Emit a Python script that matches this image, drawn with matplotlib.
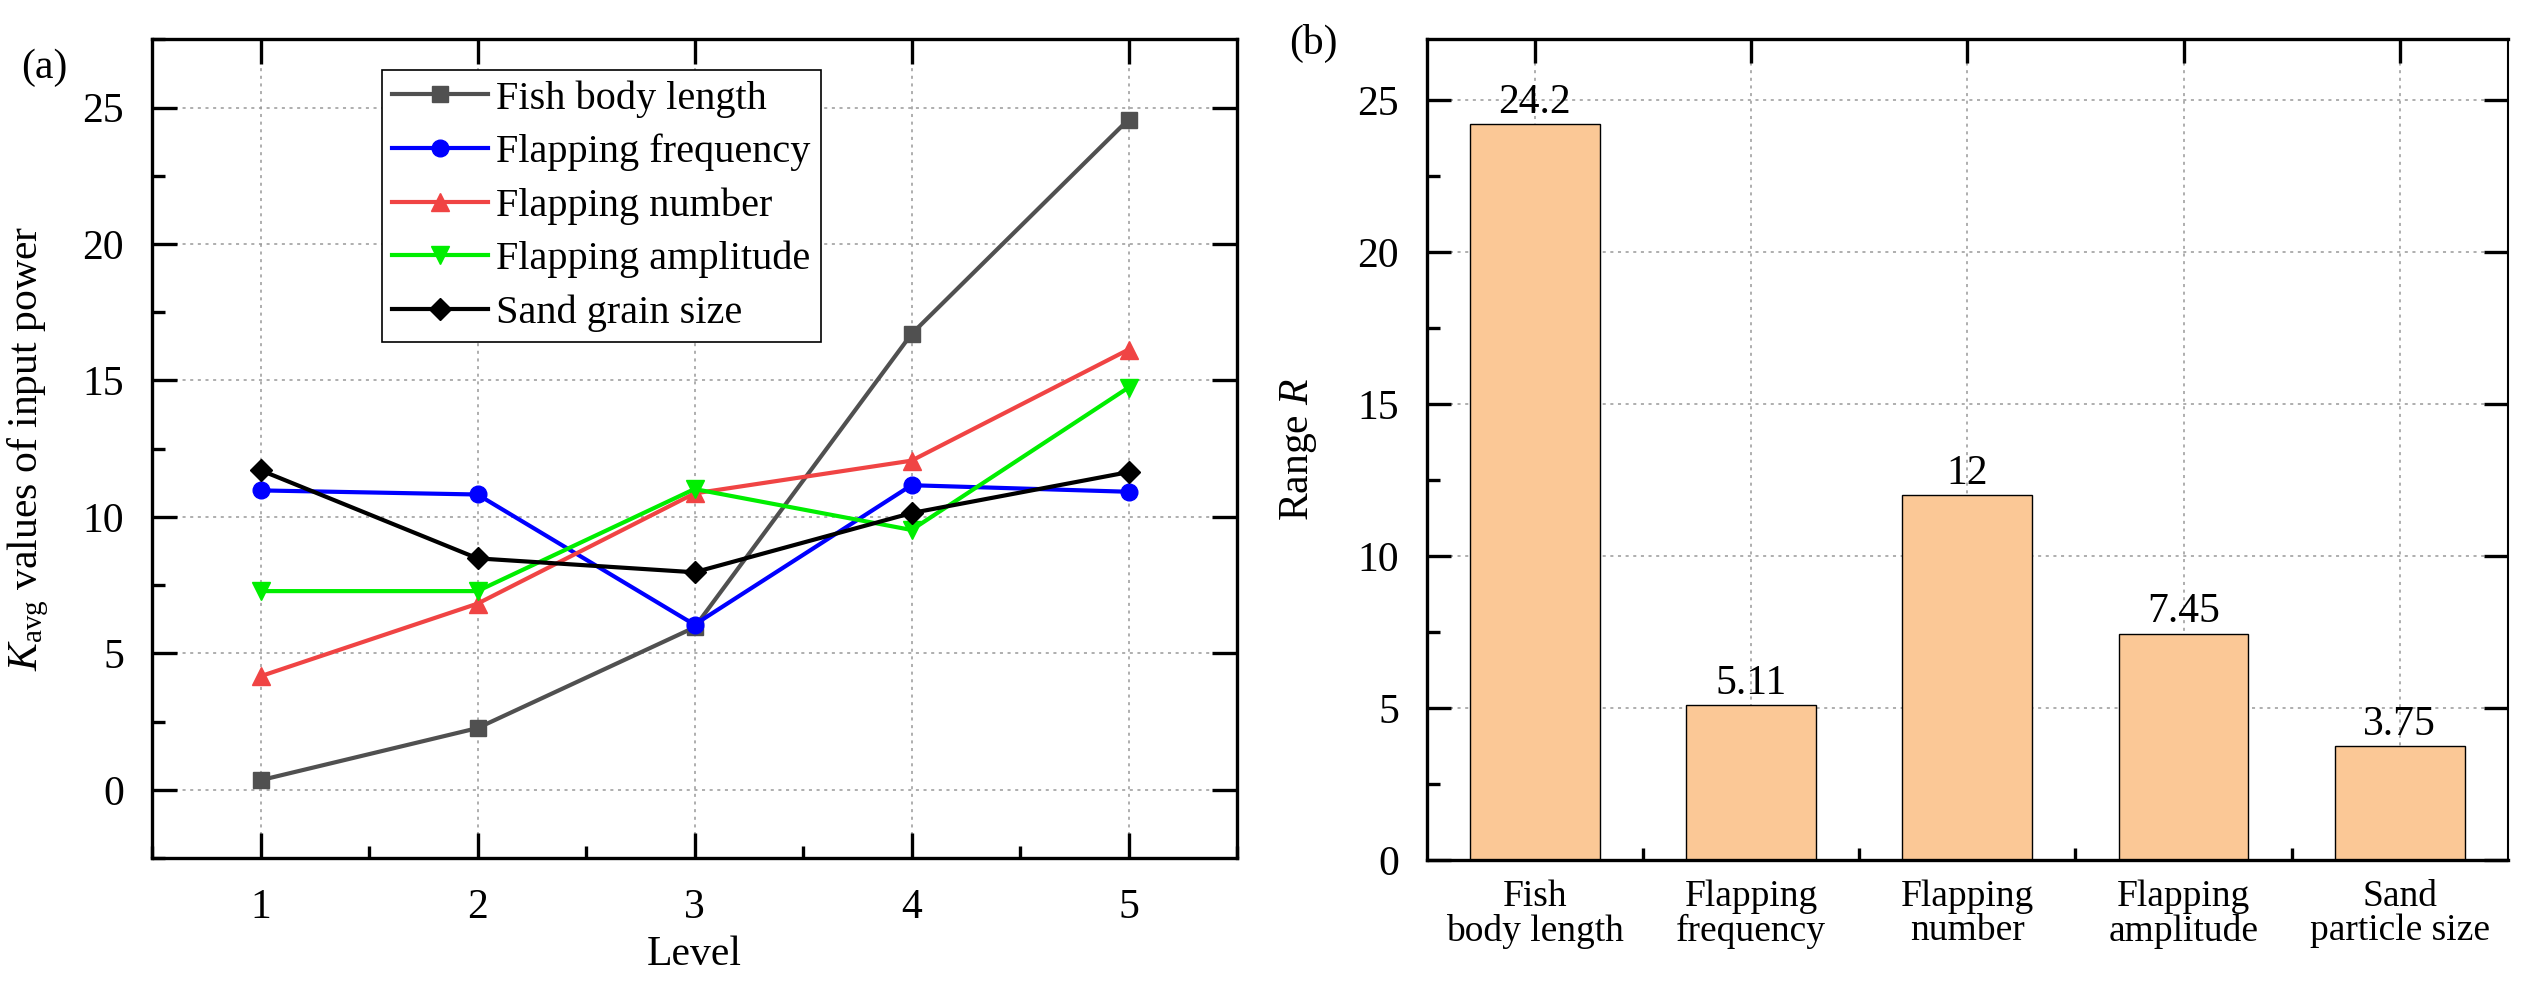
import matplotlib
matplotlib.use("Agg")
import matplotlib.pyplot as plt
from matplotlib.ticker import MultipleLocator, FixedLocator

# ---------------- data ----------------
levels = [1, 2, 3, 4, 5]
fish_body_length = [0.35, 2.26, 5.95, 16.70, 24.56]
flapping_frequency = [10.97, 10.82, 6.05, 11.16, 10.92]
flapping_number = [4.16, 6.82, 10.86, 12.06, 16.13]
flapping_amplitude = [7.28, 7.28, 11.02, 9.52, 14.74]
sand_grain_size = [11.71, 8.48, 7.97, 10.14, 11.64]

series_names = ["Fish body length", "Flapping frequency", "Flapping number",
                "Flapping amplitude", "Sand grain size"]

bar_categories = ["Fish\nbody length", "Flapping\nfrequency", "Flapping\nnumber",
                  "Flapping\namplitude", "Sand\nparticle size"]
range_values = [24.2, 5.11, 12, 7.45, 3.75]

# ---------------- style ----------------
plt.rcParams["font.family"] = ["Liberation Serif", "DejaVu Serif"]
plt.rcParams["mathtext.fontset"] = "custom"
plt.rcParams["mathtext.rm"] = "Liberation Serif"
plt.rcParams["mathtext.it"] = "Liberation Serif:italic"

W, H = 2537, 990
fig = plt.figure(figsize=(W / 100, H / 100), dpi=100)

grid_kw = dict(color="#999999", linestyle=(0, (2, 3)), linewidth=1.1)

# ---------------- panel (a) ----------------
ax1 = fig.add_axes([152 / W, 1 - 858 / H, (1237 - 152) / W, (858 - 39.3) / H])
series = [fish_body_length, flapping_frequency, flapping_number,
          flapping_amplitude, sand_grain_size]
colors = ["#505050", "#0000FF", "#F04444", "#00EE00", "#000000"]
markers = ["s", "o", "^", "v", "D"]
msizes = [12, 12, 13.5, 13.5, 11]
for vals, name, c, m, ms in zip(series, series_names, colors, markers, msizes):
    ax1.plot(levels, vals, color=c, marker=m, markersize=ms, linewidth=3.0,
             label=name, markeredgecolor=c)

ax1.set_xlim(0.5, 5.5)
ax1.set_ylim(-2.5, 27.5)
ax1.xaxis.set_major_locator(MultipleLocator(1))
ax1.xaxis.set_minor_locator(MultipleLocator(0.5))
ax1.yaxis.set_major_locator(MultipleLocator(5))
ax1.yaxis.set_minor_locator(MultipleLocator(2.5))
ax1.grid(True, which="major", **grid_kw)
ax1.set_axisbelow(True)
ax1.tick_params(which="both", direction="in", top=True, right=True, width=2.4,
                labelsize=30)
ax1.tick_params(which="major", length=18)
ax1.tick_params(which="minor", length=9, top=False, right=False)
ax1.tick_params(axis="y", pad=20)
ax1.tick_params(axis="x", pad=22)
for sp in ax1.spines.values():
    sp.set_linewidth(2.4)

ax1.set_xlabel("Level", fontsize=30)
ax1.xaxis.set_label_coords(0.5, -0.095)
ax1.set_ylabel(r"$K_{\mathrm{avg}}$ values of input power", fontsize=30)
ax1.yaxis.set_label_coords(-0.093, 0.5)

leg = ax1.legend(loc="upper left", bbox_to_anchor=(0.2117, 0.9625),
                 borderaxespad=0, fontsize=29, frameon=True, fancybox=False,
                 edgecolor="black", framealpha=1, borderpad=0.25,
                 handlelength=2.4, handletextpad=0.2, labelspacing=0.4,
                 numpoints=1)
leg.get_frame().set_linewidth(1.2)

# ---------------- panel (b) ----------------
ax2 = fig.add_axes([1426.7 / W, 1 - 860 / H, (2508 - 1426.7) / W, (860 - 39.3) / H])
xpos = list(range(len(range_values)))
bars = ax2.bar(xpos, range_values, width=0.6, color="#FBC896",
               edgecolor="black", linewidth=1.0, zorder=2)
for x, v in zip(xpos, range_values):
    ax2.annotate(f"{v:g}", (x, v), xytext=(0, 8), textcoords="offset points",
                 ha="center", va="baseline", fontsize=30)

ax2.set_xlim(-0.5, 4.5)
ax2.set_ylim(0, 27)
ax2.set_xticks(xpos)
ax2.set_xticklabels(bar_categories, fontsize=27, linespacing=1.0)
ax2.xaxis.set_minor_locator(FixedLocator([0.5, 1.5, 2.5, 3.5]))
ax2.yaxis.set_major_locator(MultipleLocator(5))
ax2.yaxis.set_minor_locator(MultipleLocator(2.5))
ax2.grid(True, which="major", **grid_kw)
ax2.set_axisbelow(True)
ax2.tick_params(which="both", direction="in", width=2.4)
ax2.tick_params(which="major", length=17, top=True, bottom=False, right=True,
                left=True)
ax2.tick_params(which="minor", length=9, top=False, bottom=True, right=False,
                left=True)
ax2.tick_params(axis="y", labelsize=30, pad=20)
ax2.tick_params(axis="x", pad=14)
for name, sp in ax2.spines.items():
    sp.set_linewidth(2.4)
ax2.spines["right"].set_linewidth(1.5)

ax2.set_ylabel(r"Range $R$", fontsize=30)
ax2.yaxis.set_label_coords(-0.10, 0.5)

# panel labels
fig.text(44 / W, 1 - 68 / H, "(a)", fontsize=30, ha="center", va="center")
fig.text(1313 / W, 1 - 43 / H, "(b)", fontsize=30, ha="center", va="center")

fig.savefig("out.png", dpi=100)
